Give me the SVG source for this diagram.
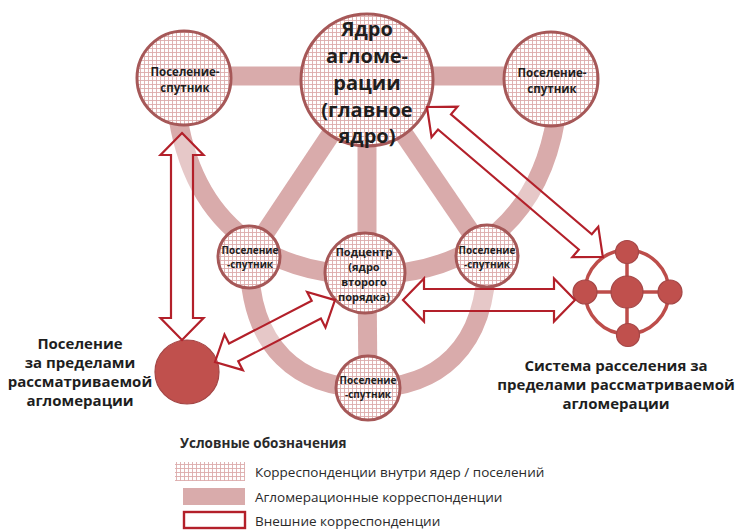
<svg xmlns="http://www.w3.org/2000/svg" width="737" height="530" viewBox="0 0 737 530">
<defs>
<pattern id="grid" width="4" height="4" patternUnits="userSpaceOnUse">
<rect width="4" height="4" fill="#ffffff"/>
<path d="M0 0.5H4M0.5 0V4" stroke="#dcabab" stroke-width="0.9"/>
</pattern>
<style>
.band{fill:none;stroke:#d9abab;stroke-width:19}
.node{fill:url(#grid);stroke:#a65858;stroke-width:3}
.arrow{fill:#ffffff;fill-opacity:0.35;stroke:#b3202a;stroke-width:2.2;stroke-linejoin:miter}
.red{fill:#c0504d;stroke:#a44646;stroke-width:1.2}
.t{font-family:'Open Sans','Noto Sans','DejaVu Sans',sans-serif;fill:#1e1e1e;text-anchor:middle;font-weight:700}
.lg{font-family:'Open Sans','Noto Sans','DejaVu Sans',sans-serif;fill:#2a2a2a}
</style>
</defs>
<rect width="737" height="530" fill="#ffffff"/>

<g id="connectors">
<line class="band" x1="184" y1="76" x2="551" y2="76"/>
<line class="band" x1="367" y1="80" x2="249" y2="257"/>
<line class="band" x1="367" y1="80" x2="487" y2="256"/>
<line class="band" x1="367" y1="80" x2="367" y2="273"/>
<line class="band" x1="367" y1="273" x2="368" y2="388"/>
<path class="band" d="M178 118 C200 250 300 275 367 275 C434 275 534 250 556 118"/>
<path class="band" d="M249 257 C249 350 300 388 368 388 C436 388 487 350 487 256"/>
</g>

<g id="node-satellite-top-left">
<circle class="node" cx="184" cy="78" r="47"/>
<text class="t" font-size="11.5" x="185" y="76">Поселение-</text>
<text class="t" font-size="11.5" x="185" y="92">спутник</text>
</g>
<g id="node-core">
<circle class="node" cx="367" cy="80" r="66"/>
<text class="t" font-size="20" x="367" y="36">Ядро</text>
<text class="t" font-size="20" x="367" y="63">агломе-</text>
<text class="t" font-size="20" x="367" y="90">рации</text>
<text class="t" font-size="20" x="367" y="117">(главное</text>
<text class="t" font-size="20" x="367" y="143">ядро)</text>
</g>
<g id="node-satellite-top-right">
<circle class="node" cx="551" cy="79" r="47"/>
<text class="t" font-size="11.5" x="552" y="77">Поселение-</text>
<text class="t" font-size="11.5" x="552" y="93">спутник</text>
</g>
<g id="node-satellite-mid-left">
<circle class="node" cx="249" cy="257" r="31"/>
<text class="t" font-size="10" x="250" y="254">Поселение</text>
<text class="t" font-size="10" x="250" y="268">-спутник</text>
</g>
<g id="node-subcenter">
<circle class="node" cx="365" cy="273" r="40"/>
<text class="t" font-size="11" x="364" y="256">Подцентр</text>
<text class="t" font-size="11" x="364" y="271">(ядро</text>
<text class="t" font-size="11" x="364" y="286">второго</text>
<text class="t" font-size="11" x="364" y="301">порядка)</text>
</g>
<g id="node-satellite-mid-right">
<circle class="node" cx="487" cy="256" r="31"/>
<text class="t" font-size="10" x="487" y="254">Поселение</text>
<text class="t" font-size="10" x="487" y="268">-спутник</text>
</g>
<g id="node-satellite-bottom">
<circle class="node" cx="368" cy="388" r="32"/>
<text class="t" font-size="10" x="368" y="384">Поселение</text>
<text class="t" font-size="10" x="368" y="398">-спутник</text>
</g>

<g id="node-outside-settlement">
<circle class="red" cx="187" cy="372" r="32"/>
<text class="t" font-size="15" x="80" y="349">Поселение</text>
<text class="t" font-size="15" x="80" y="368">за пределами</text>
<text class="t" font-size="15" x="80" y="387">рассматриваемой</text>
<text class="t" font-size="15" x="80" y="406">агломерации</text>
</g>

<g id="node-outside-system">
<circle cx="627" cy="292" r="42" fill="none" stroke="#bd4d4a" stroke-width="3.5"/>
<line x1="627" y1="252" x2="627" y2="335" stroke="#bd4d4a" stroke-width="3.5"/>
<line x1="585" y1="292" x2="670" y2="292" stroke="#bd4d4a" stroke-width="3.5"/>
<circle class="red" cx="627" cy="252" r="11.5"/>
<circle class="red" cx="628" cy="335" r="11.5"/>
<circle class="red" cx="585" cy="292" r="12"/>
<circle class="red" cx="670" cy="292" r="12"/>
<circle class="red" cx="627" cy="292" r="16"/>
<text class="t" font-size="15" x="616" y="371">Система расселения за</text>
<text class="t" font-size="15" x="616" y="390">пределами рассматриваемой</text>
<text class="t" font-size="15" x="616" y="409">агломерации</text>
</g>

<g id="external-connectors">
<path class="arrow" transform="translate(182,133) rotate(90)" d="M0 0L22 -21.5L22 -11L185 -11L185 -21.5L207 0L185 21.5L185 11L22 11L22 21.5Z"/>
<path class="arrow" transform="translate(215,362) rotate(-27.3)" d="M0 0L21 -20L21 -10L114 -10L114 -20L135 0L114 20L114 10L21 10L21 20Z"/>
<path class="arrow" transform="translate(403,300)" d="M0 0L21 -21.5L21 -11L151 -11L151 -21.5L172 0L151 21.5L151 11L21 11L21 21.5Z"/>
<path class="arrow" transform="translate(427,107) rotate(40.44)" d="M0 0L23 -20L23 -10L208 -10L208 -20L231 0L208 20L208 10L23 10L23 20Z"/>
</g>

<g id="legend">
<text class="lg" font-weight="700" font-size="13.5" x="180" y="448">Условные обозначения</text>
<rect x="175" y="462" width="70" height="19" fill="url(#grid)"/>
<text class="lg" font-size="13.5" x="255" y="477">Корреспонденции внутри ядер / поселений</text>
<rect x="183" y="488" width="62" height="17" fill="#d9abab"/>
<text class="lg" font-size="13.5" x="255" y="502">Агломерационные корреспонденции</text>
<rect x="184" y="512" width="61" height="16" fill="#ffffff" stroke="#b3202a" stroke-width="2.4"/>
<text class="lg" font-size="13.5" x="255" y="526">Внешние корреспонденции</text>
</g>
</svg>
